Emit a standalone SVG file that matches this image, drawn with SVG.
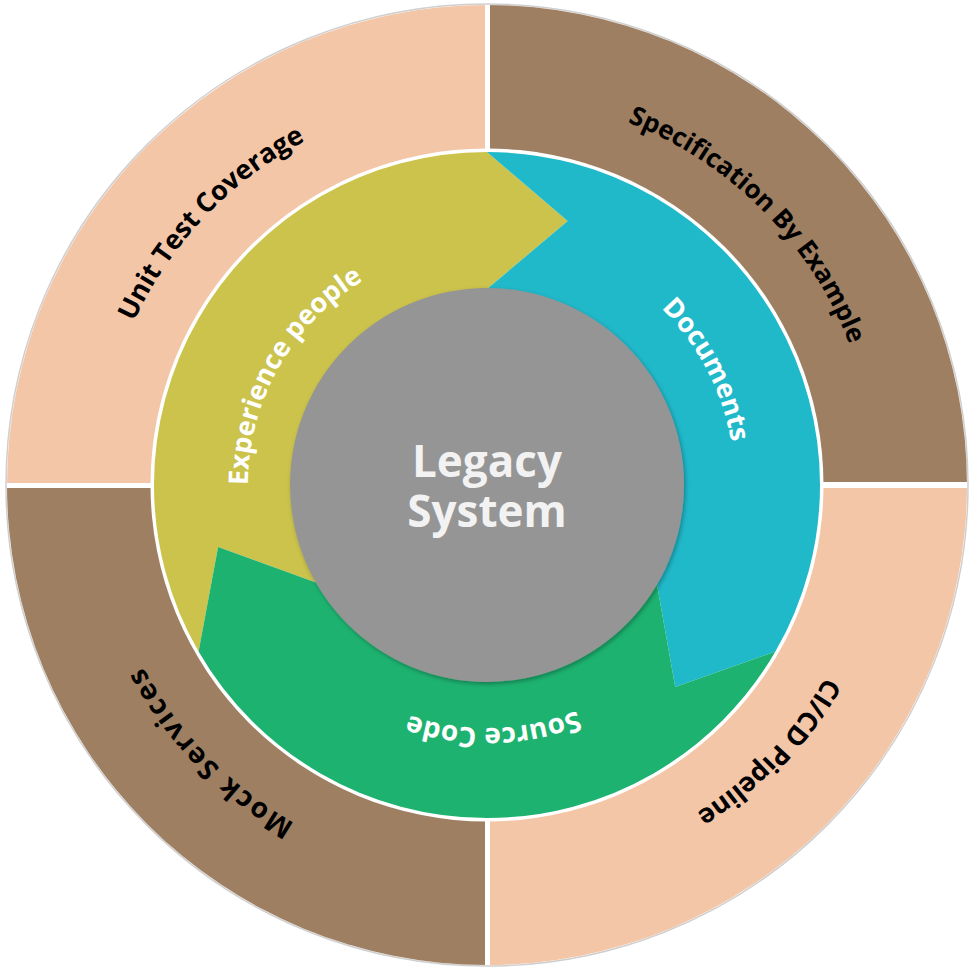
<svg xmlns="http://www.w3.org/2000/svg" width="975" height="975" viewBox="0 0 975 975">
  <defs>
    <style>
      .peach{fill:#F4C6A8;}
      .brown{fill:#9E7F62;}
      .outer{font-family:"Open Sans","DejaVu Sans",sans-serif;font-weight:700;font-size:27px;fill:#000;}
      .inner{font-family:"Open Sans","DejaVu Sans",sans-serif;font-weight:700;font-size:27px;fill:#fff;}
      .center{font-family:"Open Sans","DejaVu Sans",sans-serif;font-weight:700;font-size:44px;fill:#F2F2F2;}
    </style>
    <clipPath id="disk"><circle cx="487" cy="485" r="480"/></clipPath>
    <filter id="sh" x="-10%" y="-10%" width="120%" height="120%">
      <feDropShadow dx="1.5" dy="2" stdDeviation="2" flood-color="#000" flood-opacity="0.3"/>
    </filter>
    <path id="tUTC" d="M138.9 658.6 A389 389 0 0 1 642.1 128.2"/>
    <path id="tSpec" d="M322.6 132.5 A389 389 0 0 1 839.5 649.4"/>
    <path id="tCICD" d="M835.1 311.4 A389 389 0 0 1 331.9 841.8"/>
    <path id="tMock" d="M645.2 840.4 A389 389 0 0 1 137.4 314.5"/>
    <path id="tExp" d="M305.5 640.5 A239 239 0 0 1 526.0 249.2"/>
    <path id="tDoc" d="M453.8 239.2 A248 248 0 0 1 670.4 651.9"/>
    <path id="tSrc" d="M717.4 562.1 A243 243 0 0 1 260.9 574.1"/>
  </defs>

  <circle cx="487" cy="485" r="481" fill="#fff" stroke="#cfcfcf" stroke-width="1.5"/>

  <g clip-path="url(#disk)">
    <g id="unit-test-coverage">
      <rect class="peach" x="0" y="0" width="485" height="483"/>
    </g>
    <g id="specification-by-example">
      <rect class="brown" x="490" y="0" width="485" height="482"/>
    </g>
    <g id="mock-services">
      <rect class="brown" x="0" y="488" width="485" height="487"/>
    </g>
    <g id="ci-cd-pipeline">
      <rect class="peach" x="490" y="488" width="485" height="487"/>
    </g>
  </g>

  <text class="outer"><textPath href="#tUTC" startOffset="50%" text-anchor="middle">Unit Test Coverage</textPath></text>
  <text class="outer" style="font-size:26px"><textPath href="#tSpec" startOffset="50%" text-anchor="middle">Specification By Example</textPath></text>
  <text class="outer"><textPath href="#tCICD" startOffset="50%" text-anchor="middle">CI/CD Pipeline</textPath></text>
  <text class="outer" style="font-size:28px;letter-spacing:2px"><textPath href="#tMock" startOffset="50%" text-anchor="middle">Mock Services</textPath></text>

  <circle cx="487" cy="485" r="336.5" fill="#fff"/>

  <g id="experience-people">
    <path fill="#CBC34B" d="M198.6 651.5 A333 333 0 0 1 487 152 L567.7 221.1 L487 289 A196 196 0 0 0 317.3 583 L218.1 547.1 Z"/>
    <text class="inner"><textPath href="#tExp" startOffset="50%" text-anchor="middle">Experience people</textPath></text>
  </g>
  <g id="documents">
    <path fill="#20B9CA" d="M487 152 A333 333 0 0 1 775.4 651.5 L675.2 686.9 L656.7 583 A196 196 0 0 0 487 289 L567.7 221.1 Z"/>
    <text class="inner"><textPath href="#tDoc" startOffset="50%" text-anchor="middle">Documents</textPath></text>
  </g>
  <g id="source-code">
    <path fill="#1DB270" d="M775.4 651.5 A333 333 0 0 1 198.6 651.5 L218.1 547.1 L317.3 583 A196 196 0 0 0 656.7 583 L675.2 686.9 Z"/>
    <text class="inner" style="font-size:28px"><textPath href="#tSrc" startOffset="50%" text-anchor="middle">Source Code</textPath></text>
  </g>

  <g id="legacy-system">
    <circle cx="487" cy="485" r="197" fill="#959595" filter="url(#sh)"/>
    <text class="center" x="487" y="477" text-anchor="middle">Legacy</text>
    <text class="center" x="487" y="527" text-anchor="middle">System</text>
  </g>
</svg>
